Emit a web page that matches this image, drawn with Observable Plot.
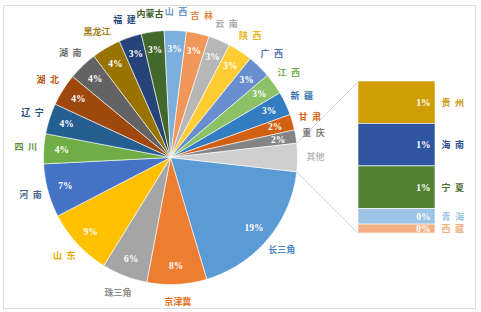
<!DOCTYPE html>
<html><head><meta charset="utf-8">
<script src="https://cdn.jsdelivr.net/npm/d3@7"></script>
<script src="https://cdn.jsdelivr.net/npm/@observablehq/plot@0.6"></script>
<style>body{margin:0;background:#fff}</style>
</head><body><div id="chart"></div>
<script>
// ---- data ----
const regions = ["长三角","京津冀","珠三角","山东","河南","四川","辽宁","湖北","湖南","黑龙江","福建","内蒙古","山西","吉林","云南","陕西","广西","江西","新疆","甘肃","重庆"];
const shares = [18.6,7.6,5.8,8.6,6.8,3.8,3.9,4.1,3.7,3.7,2.9,2.9,2.8,2.9,2.8,3.1,3.0,2.7,3.0,2.0,1.7];
const sliceColors = ["#5b9bd5","#ed7d31","#a5a5a5","#ffc000","#4472c4","#70ad47","#255e91","#9e480e","#636363","#997300","#264478","#43682b","#7cafdd","#f1975a","#b7b7b7","#ffcd33","#698ed0","#8cc168","#327dc2","#d26012","#848484"];
const labelColors = ["#4f86c0","#e07020","#8c8c8c","#e6ac00","#4b6590","#5e913b","#264a78","#b5570f","#6b6b6b","#a07e10","#2a4a80","#3c5a28","#6a98c8","#e5864a","#a8a8a8","#e8b820","#5579c0","#7aae55","#2f6fb0","#d8661a","#7a7a7a"];
const otherName = "其他";
const otherColor = "#cfcfcf";
const otherLabelColor = "#bdbdbd";
const smallRegions = ["贵州","海南","宁夏","青海","西藏"];
const smallShares = [1.0,1.0,1.0,0.37,0.21];
const smallColors = ["#cf9e07","#2f55a0","#548235","#9dc3e6","#f4b183"];
const smallLabelColors = ["#c89a10","#2f4f8f","#4f6f35","#9dc3e6","#f4b183"];

// two-character names are shown with a gap between the characters
const spaced = s => (s.length === 2 && s !== otherName) ? s[0] + "\u2002" + s[1] : s;

// ---- layout ----
const W = 481, H = 312;
const cx = 170, cy = 157, R = 127, rLabel = 145, rPct = 109;
const bar = {x1: 358, x2: 435, top: 81, bottom: 233};

const otherShare = d3.sum(smallShares);
const pieData = regions.map((name, i) => ({name, value: shares[i], color: sliceColors[i], label: labelColors[i]}))
  .concat([{name: otherName, value: otherShare, color: otherColor, label: otherLabelColor, other: true}]);
const total = d3.sum(pieData, d => d.value);
const half = otherShare / total * Math.PI;
const offset = Math.PI / 2 + half;
const arcs = d3.pie().sort(null).value(d => d.value).startAngle(offset).endAngle(offset + 2 * Math.PI)(pieData);

const px = (a, r) => cx + r * Math.sin(a);
const py = (a, r) => cy - r * Math.cos(a);

const wedgePts = [];
arcs.forEach(a => {
  const n = Math.max(2, Math.ceil((a.endAngle - a.startAngle) / (Math.PI / 180)));
  wedgePts.push({k: a.data.name, x: cx, y: cy, color: a.data.color});
  for (let j = 0; j <= n; j++) {
    const t = a.startAngle + (a.endAngle - a.startAngle) * j / n;
    wedgePts.push({k: a.data.name, x: px(t, R), y: py(t, R), color: a.data.color});
  }
  wedgePts.push({k: a.data.name, x: cx, y: cy, color: a.data.color});
});

const outLabels = arcs.map(a => {
  const m = (a.startAngle + a.endAngle) / 2;
  return {x: px(m, rLabel), y: py(m, rLabel), text: spaced(a.data.name), color: a.data.label};
});
const pctLabels = arcs.filter(a => !a.data.other).map(a => {
  const m = (a.startAngle + a.endAngle) / 2;
  return {x: px(m, rPct), y: py(m, rPct), text: Math.round(a.data.value) + "%"};
});

const otherArc = arcs[arcs.length - 1];
const yBar = d3.scaleLinear().domain([0, otherShare]).range([bar.top, bar.bottom]);
let acc = 0;
const barData = smallRegions.map((name, i) => {
  const d = {name: spaced(name), v: smallShares[i], y1: yBar(acc), y2: yBar(acc + smallShares[i]), color: smallColors[i], label: smallLabelColors[i]};
  acc += smallShares[i];
  return d;
});
const connectors = [
  {x1: px(otherArc.startAngle, R), y1: py(otherArc.startAngle, R), x2: bar.x1, y2: bar.top},
  {x1: px(otherArc.endAngle, R), y1: py(otherArc.endAngle, R), x2: bar.x1, y2: bar.bottom}
];

const cjk = "'Noto Sans CJK SC', 'Noto Sans', sans-serif";
const serif = "'Liberation Serif', 'DejaVu Serif', serif";

const chart = Plot.plot({
  width: W, height: H,
  marginLeft: 3, marginRight: 6, marginTop: 5, marginBottom: 4,
  x: {domain: [3, 475], axis: null},
  y: {domain: [5, 308], reverse: true, axis: null},
  color: {type: "identity"},
  style: {background: "#fff"},
  marks: [
    Plot.frame({stroke: "#dcdcdc"}),
    Plot.link(connectors, {x1: "x1", y1: "y1", x2: "x2", y2: "y2", stroke: "#c8c8c8", strokeWidth: 0.8}),
    Plot.line(wedgePts, {x: "x", y: "y", z: "k", fill: "color", stroke: "#fff", strokeWidth: 0.6, curve: "linear"}),
    Plot.rect(barData, {x1: () => bar.x1, x2: () => bar.x2, y1: "y1", y2: "y2", fill: "color", stroke: "#fff", strokeWidth: 0.6}),
    Plot.text(pctLabels, {x: "x", y: "y", text: "text", fill: "#fff", fontSize: 9.5, fontWeight: "bold", fontFamily: serif}),
    Plot.text(outLabels, {x: "x", y: "y", text: "text", fill: "color", fontSize: 9, fontWeight: "bold", fontFamily: cjk}),
    Plot.text(barData, {x: () => bar.x2 - 5, y: d => (d.y1 + d.y2) / 2, text: d => Math.round(d.v) + "%", fill: "#fff", textAnchor: "end", fontSize: 9.5, fontWeight: "bold", fontFamily: serif}),
    Plot.text(barData, {x: () => bar.x2 + 6, y: d => (d.y1 + d.y2) / 2, text: "name", fill: "label", textAnchor: "start", fontSize: 9, fontWeight: "bold", fontFamily: cjk})
  ]
});
document.getElementById("chart").appendChild(chart);
</script>
</body></html>
